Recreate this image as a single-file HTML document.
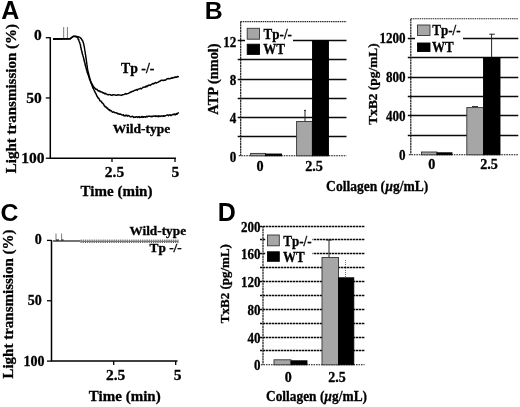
<!DOCTYPE html><html><head><meta charset="utf-8"><title>Figure</title><style>html,body{margin:0;padding:0;background:#fff}svg{display:block}</style></head><body>
<svg width="520" height="407" viewBox="0 0 520 407">
<rect width="520" height="407" fill="#fff"/>
<text x="1.3" y="18.7" font-size="25" text-anchor="start" font-family="Liberation Sans, sans-serif" font-weight="bold" >A</text>
<text x="204.7" y="18.5" font-size="24.8" text-anchor="start" font-family="Liberation Sans, sans-serif" font-weight="bold" >B</text>
<text x="0.6" y="220.7" font-size="24.8" text-anchor="start" font-family="Liberation Sans, sans-serif" font-weight="bold" >C</text>
<text x="217.8" y="221" font-size="25" text-anchor="start" font-family="Liberation Sans, sans-serif" font-weight="bold" >D</text>
<path d="M50.3,37.2 V158.2 H176" fill="none" stroke="#000" stroke-width="1.5"/>
<path d="M45.8,37.7 H50.3" stroke="#000" stroke-width="1.3"/>
<path d="M45.8,97.94999999999999 H50.3" stroke="#000" stroke-width="1.3"/>
<path d="M45.8,158.2 H50.3" stroke="#000" stroke-width="1.3"/>
<path d="M112,158.2 v3.8" stroke="#000" stroke-width="1.3"/>
<path d="M175,158.2 v3.8" stroke="#000" stroke-width="1.3"/>
<text x="41.8" y="40.43900000000001" font-size="15.5" text-anchor="end" font-family="Liberation Serif, serif" font-weight="bold" stroke="#000" stroke-width="0.3" >0</text>
<text x="41.8" y="103.189" font-size="15.5" text-anchor="end" font-family="Liberation Serif, serif" font-weight="bold" stroke="#000" stroke-width="0.3" >50</text>
<text x="44.6" y="163.439" font-size="15.5" text-anchor="end" font-family="Liberation Serif, serif" font-weight="bold" stroke="#000" stroke-width="0.3" >100</text>
<text x="114.5" y="177" font-size="15.5" text-anchor="middle" font-family="Liberation Serif, serif" font-weight="bold" stroke="#000" stroke-width="0.3" >2.5</text>
<text x="175.3" y="177" font-size="15.5" text-anchor="middle" font-family="Liberation Serif, serif" font-weight="bold" stroke="#000" stroke-width="0.3" >5</text>
<text x="116.5" y="196" font-size="15" text-anchor="middle" font-family="Liberation Serif, serif" font-weight="bold" stroke="#000" stroke-width="0.3" >Time (min)</text>
<text transform="translate(16.2,173.2) rotate(-90)" font-size="15" font-family="Liberation Serif, serif" font-weight="bold" stroke="#000" stroke-width="0.3">Light transmission (%)</text>
<path d="M63.7,38.5 V27 M67.4,38.5 V27" stroke="#555" stroke-width="0.8" fill="none"/>
<polyline points="53.0,38.8 70.0,38.6 71.5,37.6 73.3,36.2 75.5,36.3 78.0,36.8 80.0,37.4 81.0,38.4 81.2,38.5 81.4,38.6 81.6,39.5 81.9,39.4 82.2,40.4 82.5,40.7 82.8,41.0 83.0,42.0 83.2,42.1 83.4,43.1 83.6,43.4 83.7,44.0 83.9,45.1 84.1,46.2 84.2,46.4 84.4,47.4 84.6,48.9 84.8,50.4 85.0,51.2 85.2,52.4 85.4,54.3 85.6,54.8 85.8,57.0 86.0,57.8 86.2,59.1 86.4,60.6 86.6,62.3 86.9,64.4 87.1,65.4 87.3,67.3 87.5,68.7 87.7,69.7 87.9,70.9 88.1,71.4 88.3,72.3 88.5,73.2 88.7,74.5 88.9,75.0 89.1,75.6 89.3,76.6 89.5,77.2 89.7,77.8 89.9,79.0 90.1,79.7 90.4,79.9 90.6,80.9 90.8,81.5 91.0,82.4 91.2,82.8 91.4,82.8 91.6,83.9 91.9,83.5 92.1,84.2 92.3,84.9 92.5,84.6 92.7,85.3 92.9,85.2 93.1,86.1 93.2,86.5 93.4,86.5 93.6,87.1 93.8,86.8 94.0,87.4 94.3,87.6 94.6,87.9 95.0,88.1 95.4,88.8 95.8,89.2 96.2,89.1 96.6,89.6 97.1,89.3 97.5,90.2 97.9,90.4 98.3,91.0 98.8,91.1 99.2,90.8 99.6,91.2 100.1,91.7 100.5,91.3 101.0,92.0 101.5,91.9 101.9,92.1 102.4,92.2 102.9,93.1 103.4,92.7 103.9,93.0 104.5,93.3 105.0,94.0 105.6,93.3 106.1,93.9 106.7,94.1 107.3,94.6 107.9,94.7 108.5,94.8 109.1,94.4 109.8,94.6 110.5,94.7 111.3,95.3 112.0,95.4 112.8,94.7 113.6,94.8 114.4,94.9 115.2,94.9 116.0,95.2 116.8,95.3 117.5,95.0 118.2,94.7 119.0,95.1 119.7,95.0 120.5,95.1 121.2,95.4 122.0,95.0 122.8,94.7 123.7,94.6 124.5,94.4 125.4,93.5 126.3,94.1 127.1,93.7 127.9,93.6 128.6,93.3 129.3,92.7 129.9,92.5 130.4,92.0 130.9,92.4 131.5,91.6 132.0,91.4 132.5,91.4 133.0,91.2 133.5,91.1 134.1,90.6 134.6,90.4 135.1,90.3 135.6,90.0 136.1,90.1 136.7,89.5 137.2,90.2 137.7,89.7 138.3,89.1 138.8,89.0 139.3,88.9 139.9,88.7 140.4,88.3 141.0,88.8 141.5,88.8 142.0,88.1 142.6,87.9 143.1,87.3 143.7,87.1 144.2,87.2 144.7,86.9 145.3,87.2 145.8,86.4 146.3,86.0 146.9,86.7 147.4,86.1 147.9,85.5 148.4,85.7 148.9,85.0 149.5,85.2 150.0,85.5 150.5,85.1 151.1,84.7 151.6,84.1 152.2,84.0 152.7,83.5 153.3,83.9 153.9,83.4 154.4,83.5 154.9,82.8 155.5,82.5 156.0,82.9 156.6,82.9 157.1,82.6 157.6,82.4 158.2,82.2 158.7,81.9 159.2,81.2 159.8,81.4 160.3,81.0 160.8,80.5 161.4,80.3 161.9,80.4 162.5,80.2 163.0,80.5 163.5,80.6 164.1,79.9 164.6,80.3 165.2,80.2 165.7,80.0 166.2,79.3 166.8,79.0 167.3,78.8 167.8,78.7 168.4,78.5 169.0,78.8 169.5,78.9 170.1,78.7 170.6,78.2 171.1,78.3 171.6,78.3 172.1,77.5 172.5,77.9 172.9,78.1 173.3,77.9 173.8,77.7 174.2,77.4 174.6,77.0 175.0,77.5 175.5,76.9 176.0,77.3 176.5,77.3 177.0,76.6 177.4,76.5 177.9,76.9 178.2,76.6 178.5,76.0" fill="none" stroke="#000" stroke-width="1.45" stroke-linejoin="round"/>
<polyline points="53.0,39.2 70.0,39.1 71.5,37.8 73.3,36.4 75.5,36.6 77.7,37.7 77.8,37.6 78.0,38.0 78.2,39.3 78.5,39.7 78.7,39.5 79.0,40.9 79.3,41.8 79.5,42.2 79.7,42.6 80.0,43.7 80.2,44.2 80.5,45.1 80.7,47.2 81.0,47.9 81.2,48.9 81.5,50.5 81.8,51.1 82.1,52.8 82.4,54.0 82.7,54.6 83.0,55.9 83.4,57.2 83.7,58.5 84.0,60.1 84.3,61.0 84.7,62.5 85.0,63.4 85.3,65.6 85.7,66.2 86.0,67.6 86.3,68.8 86.6,70.2 86.9,70.7 87.1,72.1 87.4,72.4 87.6,73.2 87.8,73.9 88.0,74.1 88.3,75.2 88.5,75.7 88.7,76.1 89.0,77.7 89.2,77.6 89.4,78.6 89.6,79.5 89.9,79.9 90.1,80.2 90.3,81.0 90.5,81.6 90.7,82.4 90.9,82.1 91.1,83.1 91.3,83.3 91.5,83.8 91.7,85.0 92.0,85.3 92.3,86.1 92.6,87.1 93.0,88.1 93.4,88.4 93.8,89.5 94.2,90.3 94.6,91.2 95.0,92.2 95.4,92.8 95.9,93.7 96.3,94.5 96.8,95.9 97.3,96.4 97.8,97.5 98.3,98.3 98.8,98.3 99.3,99.4 99.8,100.5 100.3,101.1 100.8,101.0 101.4,101.7 101.9,102.7 102.5,102.9 103.0,103.7 103.6,104.1 104.1,105.4 104.7,106.1 105.2,106.8 105.8,106.6 106.4,107.7 107.0,108.2 107.6,108.1 108.2,109.4 108.9,109.9 109.6,109.6 110.2,110.8 110.9,110.6 111.6,111.1 112.3,112.0 113.0,112.2 113.7,111.8 114.4,112.4 115.1,112.8 115.9,112.8 116.6,113.0 117.3,113.3 118.0,114.0 118.7,113.5 119.4,114.3 120.1,114.3 120.7,114.0 121.4,114.6 122.1,115.0 122.7,115.1 123.4,114.7 124.0,115.8 124.6,115.7 125.1,116.0 125.7,115.2 126.2,115.4 126.7,115.2 127.3,116.1 127.9,115.6 128.6,115.6 129.4,116.0 130.2,116.7 131.1,116.8 132.0,116.3 132.9,116.4 133.8,117.4 134.7,117.1 135.5,117.3 136.3,116.7 137.0,116.7 137.7,117.4 138.4,117.0 139.1,116.6 139.7,117.5 140.4,117.2 141.0,117.3 141.6,116.5 142.3,117.3 142.9,116.5 143.5,117.3 144.1,116.8 144.7,116.7 145.2,116.9 145.8,117.3 146.4,116.5 146.9,116.3 147.4,116.8 147.9,116.4 148.4,116.2 149.0,116.3 149.5,116.1 150.0,116.3 150.5,116.4 151.1,116.3 151.6,116.8 152.2,116.3 152.7,116.5 153.3,116.1 153.9,116.3 154.4,115.9 154.9,116.1 155.5,115.8 156.0,116.6 156.6,116.4 157.1,115.9 157.6,116.2 158.2,116.7 158.7,115.8 159.2,116.5 159.8,116.1 160.3,116.1 160.8,116.4 161.4,115.9 161.9,116.0 162.5,116.1 163.0,116.4 163.5,115.7 164.1,116.2 164.6,116.0 165.2,115.9 165.7,115.6 166.2,115.4 166.8,115.1 167.3,115.1 167.8,115.0 168.4,115.7 169.0,115.1 169.5,114.9 170.1,114.7 170.6,115.5 171.1,115.5 171.6,115.2 172.1,114.7 172.5,114.6 172.9,114.5 173.3,114.6 173.8,114.2 174.2,114.4 174.6,114.1 175.0,114.8 175.5,114.7 176.0,114.1 176.5,113.6 177.0,114.3 177.4,113.4 177.9,113.3 178.2,112.8 178.5,113.2" fill="none" stroke="#000" stroke-width="1.5" stroke-linejoin="round"/>
<text x="121" y="72.7" font-size="13.8" text-anchor="start" font-family="Liberation Serif, serif" font-weight="bold" stroke="#000" stroke-width="0.3" >Tp -/-</text>
<text x="112.7" y="133" font-size="13.5" text-anchor="start" font-family="Liberation Serif, serif" font-weight="bold" stroke="#000" stroke-width="0.3" >Wild-type</text>
<path d="M51.5,239.9 V361.1 H177.5" fill="none" stroke="#000" stroke-width="1.5"/>
<path d="M47.0,240.4 H51.5" stroke="#000" stroke-width="1.3"/>
<path d="M47.0,300.75 H51.5" stroke="#000" stroke-width="1.3"/>
<path d="M47.0,361.1 H51.5" stroke="#000" stroke-width="1.3"/>
<path d="M113.7,361.1 v3.8" stroke="#000" stroke-width="1.3"/>
<path d="M175.7,361.1 v3.8" stroke="#000" stroke-width="1.3"/>
<text x="41.8" y="244.132" font-size="14" text-anchor="end" font-family="Liberation Serif, serif" font-weight="bold" stroke="#000" stroke-width="0.3" >0</text>
<text x="41.8" y="305.482" font-size="14" text-anchor="end" font-family="Liberation Serif, serif" font-weight="bold" stroke="#000" stroke-width="0.3" >50</text>
<text x="44.6" y="365.83200000000005" font-size="14" text-anchor="end" font-family="Liberation Serif, serif" font-weight="bold" stroke="#000" stroke-width="0.3" >100</text>
<text x="115.6" y="379.5" font-size="15.5" text-anchor="middle" font-family="Liberation Serif, serif" font-weight="bold" stroke="#000" stroke-width="0.3" >2.5</text>
<text x="177.5" y="379.5" font-size="15.5" text-anchor="middle" font-family="Liberation Serif, serif" font-weight="bold" stroke="#000" stroke-width="0.3" >5</text>
<text x="124.75" y="401" font-size="15" text-anchor="middle" font-family="Liberation Serif, serif" font-weight="bold" stroke="#000" stroke-width="0.3" >Time (min)</text>
<text transform="translate(12.8,378.6) rotate(-90)" font-size="15" font-family="Liberation Serif, serif" font-weight="bold" stroke="#000" stroke-width="0.3">Light transmission (%)</text>
<polyline points="53.0,241.0 80.5,241.0" fill="none" stroke="#000" stroke-width="1.1"/>
<path d="M56,241 V233.5 M61.6,241 V233.5" stroke="#444" stroke-width="0.7" fill="none"/>
<path d="M56,240 h3 M61.6,240 h2" stroke="#000" stroke-width="1" fill="none"/>
<path d="M80.5,240.2 H178.5" stroke="#444" stroke-width="1" stroke-dasharray="1.3 0.9"/>
<path d="M80.5,241.3 H178.5" stroke="#777" stroke-width="1.2"/>
<path d="M80.5,242.5 H178.5" stroke="#555" stroke-width="1" stroke-dasharray="1.1 1.1"/>
<text x="129.4" y="235" font-size="13.3" text-anchor="start" font-family="Liberation Serif, serif" font-weight="bold" stroke="#000" stroke-width="0.3" >Wild-type</text>
<text x="149.6" y="251.8" font-size="13.3" text-anchor="start" font-family="Liberation Serif, serif" font-weight="bold" stroke="#000" stroke-width="0.3" >Tp -/-</text>
<path d="M237.7,136.5 H346.5" stroke="#0a0a0a" stroke-width="1.5"/>
<path d="M237.7,117.5 H346.5" stroke="#0a0a0a" stroke-width="1.5"/>
<path d="M237.7,98.5 H346.5" stroke="#0a0a0a" stroke-width="1.5"/>
<path d="M237.7,79.5 H346.5" stroke="#0a0a0a" stroke-width="1.5"/>
<path d="M237.7,59.5 H346.5" stroke="#0a0a0a" stroke-width="1.5"/>
<path d="M237.7,40.5 H346.5" stroke="#0a0a0a" stroke-width="1.5"/>
<path d="M240.7,21.6 H346.5" stroke="#2a2a2a" stroke-width="1.1" stroke-dasharray="1.5 0.7"/>
<path d="M238.7,155.8 H346.5" stroke="#111" stroke-width="1.1" stroke-dasharray="1.6 0.9"/>
<path d="M240.7,21.6 V155.8" stroke="#111" stroke-width="1.15" stroke-dasharray="2.2 0.5"/>
<text transform="translate(236.4,161.7) scale(0.93,1)" font-size="14.098" text-anchor="end" font-family="Liberation Serif, serif" font-weight="bold" stroke="#000" stroke-width="0.3">0</text>
<text transform="translate(236.4,123.36000000000001) scale(0.93,1)" font-size="14.098" text-anchor="end" font-family="Liberation Serif, serif" font-weight="bold" stroke="#000" stroke-width="0.3">4</text>
<text transform="translate(236.4,85.02000000000001) scale(0.93,1)" font-size="14.098" text-anchor="end" font-family="Liberation Serif, serif" font-weight="bold" stroke="#000" stroke-width="0.3">8</text>
<text transform="translate(236.4,46.68000000000001) scale(0.93,1)" font-size="14.098" text-anchor="end" font-family="Liberation Serif, serif" font-weight="bold" stroke="#000" stroke-width="0.3">12</text>
<rect x="250.6" y="153.4" width="15.0" height="2.4" fill="#a6a6a6" stroke="#333" stroke-width="0.9"/>
<rect x="265.6" y="154.0" width="16.0" height="1.8" fill="#000" stroke="#000" stroke-width="0.9"/>
<path d="M305,110.2 V122 M304,110.4 H306" stroke="#222" stroke-width="1" fill="none"/>
<rect x="296.6" y="121.5" width="15.7" height="34.3" fill="#a6a6a6" stroke="#333" stroke-width="0.9"/>
<rect x="312.5" y="40.8" width="16.0" height="115.0" fill="#000" stroke="#000" stroke-width="0.9"/>
<rect x="245" y="25" width="48" height="31" fill="#fff"/>
<rect x="247.2" y="28.3" width="12.3" height="10.9" fill="#a6a6a6" stroke="#333" stroke-width="0.9"/>
<rect x="247.2" y="44.2" width="12.3" height="10.2" fill="#000" stroke="#000" stroke-width="0.9"/>
<text transform="translate(263.6,38.5) scale(0.87,1)" font-size="15" text-anchor="start" font-family="Liberation Serif, serif" font-weight="bold" stroke="#000" stroke-width="0.3">Tp-/-</text>
<text transform="translate(263.3,53.8) scale(0.87,1)" font-size="15" text-anchor="start" font-family="Liberation Serif, serif" font-weight="bold" stroke="#000" stroke-width="0.3">WT</text>
<text x="260" y="170.8" font-size="14.2" text-anchor="middle" font-family="Liberation Serif, serif" font-weight="bold" stroke="#000" stroke-width="0.3" >0</text>
<text x="314" y="170.8" font-size="14.2" text-anchor="middle" font-family="Liberation Serif, serif" font-weight="bold" stroke="#000" stroke-width="0.3" >2.5</text>
<text transform="translate(218,79) rotate(-90)" font-size="14.4" text-anchor="middle" font-family="Liberation Serif, serif" font-weight="bold" stroke="#000" stroke-width="0.3">ATP (nmol)</text>
<text transform="translate(377.2,190.9) scale(0.915,1)" font-size="14.8" text-anchor="middle" font-family="Liberation Serif, serif" font-weight="bold" stroke="#000" stroke-width="0.3">Collagen (<tspan font-style="italic">µ</tspan>g/mL)</text>
<path d="M407.8,135.5 H518.3" stroke="#0a0a0a" stroke-width="1.5"/>
<path d="M407.8,115.5 H518.3" stroke="#0a0a0a" stroke-width="1.5"/>
<path d="M407.8,96.5 H518.3" stroke="#0a0a0a" stroke-width="1.5"/>
<path d="M407.8,77.5 H518.3" stroke="#0a0a0a" stroke-width="1.5"/>
<path d="M407.8,57.5 H518.3" stroke="#0a0a0a" stroke-width="1.5"/>
<path d="M407.8,38.5 H518.3" stroke="#0a0a0a" stroke-width="1.5"/>
<path d="M410.8,18.7 H518.3" stroke="#2a2a2a" stroke-width="1.1" stroke-dasharray="1.5 0.7"/>
<path d="M408.8,154.8 H518.3" stroke="#111" stroke-width="1.1" stroke-dasharray="1.6 0.9"/>
<path d="M410.8,18.7 V154.8" stroke="#111" stroke-width="1.15" stroke-dasharray="2.2 0.5"/>
<text transform="translate(405.6,159.5) scale(0.93,1)" font-size="14.098" text-anchor="end" font-family="Liberation Serif, serif" font-weight="bold" stroke="#000" stroke-width="0.3">0</text>
<text transform="translate(405.6,120.60000000000001) scale(0.93,1)" font-size="14.098" text-anchor="end" font-family="Liberation Serif, serif" font-weight="bold" stroke="#000" stroke-width="0.3">400</text>
<text transform="translate(405.6,81.70000000000002) scale(0.93,1)" font-size="14.098" text-anchor="end" font-family="Liberation Serif, serif" font-weight="bold" stroke="#000" stroke-width="0.3">800</text>
<text transform="translate(405.6,42.800000000000026) scale(0.93,1)" font-size="14.098" text-anchor="end" font-family="Liberation Serif, serif" font-weight="bold" stroke="#000" stroke-width="0.3">1200</text>
<rect x="421.5" y="152.0" width="15.5" height="2.8" fill="#a6a6a6" stroke="#333" stroke-width="0.9"/>
<rect x="437.0" y="152.8" width="15.0" height="2.0" fill="#000" stroke="#000" stroke-width="0.9"/>
<path d="M491.6,34 V58 M489.3,34.2 H494.8" stroke="#222" stroke-width="1" fill="none"/>
<path d="M472,106.6 H478" stroke="#222" stroke-width="1" fill="none"/>
<rect x="466.8" y="107.6" width="16.7" height="47.2" fill="#a6a6a6" stroke="#333" stroke-width="0.9"/>
<rect x="483.5" y="57.5" width="16.5" height="97.3" fill="#000" stroke="#000" stroke-width="0.9"/>
<rect x="415" y="22" width="48" height="31" fill="#fff"/>
<rect x="417.5" y="25.0" width="12.5" height="10.5" fill="#a6a6a6" stroke="#333" stroke-width="0.9"/>
<rect x="417.5" y="43.0" width="12.5" height="8.5" fill="#000" stroke="#000" stroke-width="0.9"/>
<text transform="translate(432.3,35.4) scale(0.87,1)" font-size="15" text-anchor="start" font-family="Liberation Serif, serif" font-weight="bold" stroke="#000" stroke-width="0.3">Tp-/-</text>
<text transform="translate(432,51.6) scale(0.87,1)" font-size="15" text-anchor="start" font-family="Liberation Serif, serif" font-weight="bold" stroke="#000" stroke-width="0.3">WT</text>
<text x="431.7" y="168.7" font-size="14.2" text-anchor="middle" font-family="Liberation Serif, serif" font-weight="bold" stroke="#000" stroke-width="0.3" >0</text>
<text x="489" y="168.7" font-size="14.2" text-anchor="middle" font-family="Liberation Serif, serif" font-weight="bold" stroke="#000" stroke-width="0.3" >2.5</text>
<text transform="translate(376.5,84) rotate(-90)" font-size="13.4" text-anchor="middle" font-family="Liberation Serif, serif" font-weight="bold" stroke="#000" stroke-width="0.3">TxB2 (pg/mL)</text>
<path d="M260,350.5 H364.5" stroke="#0a0a0a" stroke-width="1.5" stroke-dasharray="2.4 0.6"/>
<path d="M260,337.5 H364.5" stroke="#0a0a0a" stroke-width="1.5" stroke-dasharray="2.4 0.6"/>
<path d="M260,323.5 H364.5" stroke="#0a0a0a" stroke-width="1.5" stroke-dasharray="2.4 0.6"/>
<path d="M260,309.5 H364.5" stroke="#0a0a0a" stroke-width="1.5" stroke-dasharray="2.4 0.6"/>
<path d="M260,295.5 H364.5" stroke="#0a0a0a" stroke-width="1.5" stroke-dasharray="2.4 0.6"/>
<path d="M260,281.5 H364.5" stroke="#0a0a0a" stroke-width="1.5" stroke-dasharray="2.4 0.6"/>
<path d="M260,267.5 H364.5" stroke="#0a0a0a" stroke-width="1.5" stroke-dasharray="2.4 0.6"/>
<path d="M260,253.5 H364.5" stroke="#0a0a0a" stroke-width="1.5" stroke-dasharray="2.4 0.6"/>
<path d="M260,239.5 H364.5" stroke="#0a0a0a" stroke-width="1.5" stroke-dasharray="2.4 0.6"/>
<path d="M260,226.5 H364.5" stroke="#0a0a0a" stroke-width="1.5" stroke-dasharray="2.4 0.6"/>
<path d="M261,364.8 H364.5" stroke="#111" stroke-width="1.1" stroke-dasharray="1.6 0.9"/>
<path d="M263,226.0 V364.8" stroke="#111" stroke-width="1.15" stroke-dasharray="2.2 0.5"/>
<text transform="translate(260.4,370.3) scale(0.93,1)" font-size="13.991999999999999" text-anchor="end" font-family="Liberation Serif, serif" font-weight="bold" stroke="#000" stroke-width="0.3">0</text>
<text transform="translate(260.4,342.54) scale(0.93,1)" font-size="13.991999999999999" text-anchor="end" font-family="Liberation Serif, serif" font-weight="bold" stroke="#000" stroke-width="0.3">40</text>
<text transform="translate(260.4,314.78000000000003) scale(0.93,1)" font-size="13.991999999999999" text-anchor="end" font-family="Liberation Serif, serif" font-weight="bold" stroke="#000" stroke-width="0.3">80</text>
<text transform="translate(260.4,287.02) scale(0.93,1)" font-size="13.991999999999999" text-anchor="end" font-family="Liberation Serif, serif" font-weight="bold" stroke="#000" stroke-width="0.3">120</text>
<text transform="translate(260.4,259.26) scale(0.93,1)" font-size="13.991999999999999" text-anchor="end" font-family="Liberation Serif, serif" font-weight="bold" stroke="#000" stroke-width="0.3">160</text>
<text transform="translate(260.4,231.5) scale(0.93,1)" font-size="13.991999999999999" text-anchor="end" font-family="Liberation Serif, serif" font-weight="bold" stroke="#000" stroke-width="0.3">200</text>
<rect x="274.0" y="359.8" width="17.0" height="5.0" fill="#a6a6a6" stroke="#333" stroke-width="0.9"/>
<rect x="291.0" y="360.8" width="16.0" height="4.0" fill="#000" stroke="#000" stroke-width="0.9"/>
<path d="M329,240 V258 M326,240 H332" stroke="#222" stroke-width="1" fill="none"/>
<path d="M345.5,260 V278" stroke="#777" stroke-width="1" stroke-dasharray="1 1" fill="none"/>
<rect x="322.0" y="257.5" width="16.5" height="107.3" fill="#a6a6a6" stroke="#333" stroke-width="0.9"/>
<rect x="338.5" y="277.8" width="15.3" height="87.0" fill="#000" stroke="#000" stroke-width="0.9"/>
<rect x="265.5" y="232" width="47" height="31" fill="#fff"/>
<rect x="267.5" y="235.0" width="11.8" height="10.8" fill="#a6a6a6" stroke="#333" stroke-width="0.9"/>
<rect x="267.5" y="251.8" width="11.8" height="9.5" fill="#000" stroke="#000" stroke-width="0.9"/>
<text transform="translate(283.3,246) scale(0.87,1)" font-size="15" text-anchor="start" font-family="Liberation Serif, serif" font-weight="bold" stroke="#000" stroke-width="0.3">Tp-/-</text>
<text transform="translate(283,262.3) scale(0.87,1)" font-size="15" text-anchor="start" font-family="Liberation Serif, serif" font-weight="bold" stroke="#000" stroke-width="0.3">WT</text>
<text x="288.3" y="381.8" font-size="14" text-anchor="middle" font-family="Liberation Serif, serif" font-weight="bold" stroke="#000" stroke-width="0.3" >0</text>
<text x="337" y="381.8" font-size="14" text-anchor="middle" font-family="Liberation Serif, serif" font-weight="bold" stroke="#000" stroke-width="0.3" >2.5</text>
<text transform="translate(229,283.6) rotate(-90)" font-size="13" text-anchor="middle" font-family="Liberation Serif, serif" font-weight="bold" stroke="#000" stroke-width="0.3">TxB2 (pg/mL)</text>
<text transform="translate(316.5,401.4) scale(0.905,1)" font-size="14.8" text-anchor="middle" font-family="Liberation Serif, serif" font-weight="bold" stroke="#000" stroke-width="0.3">Collagen (<tspan font-style="italic">µ</tspan>g/mL)</text>
</svg></body></html>
